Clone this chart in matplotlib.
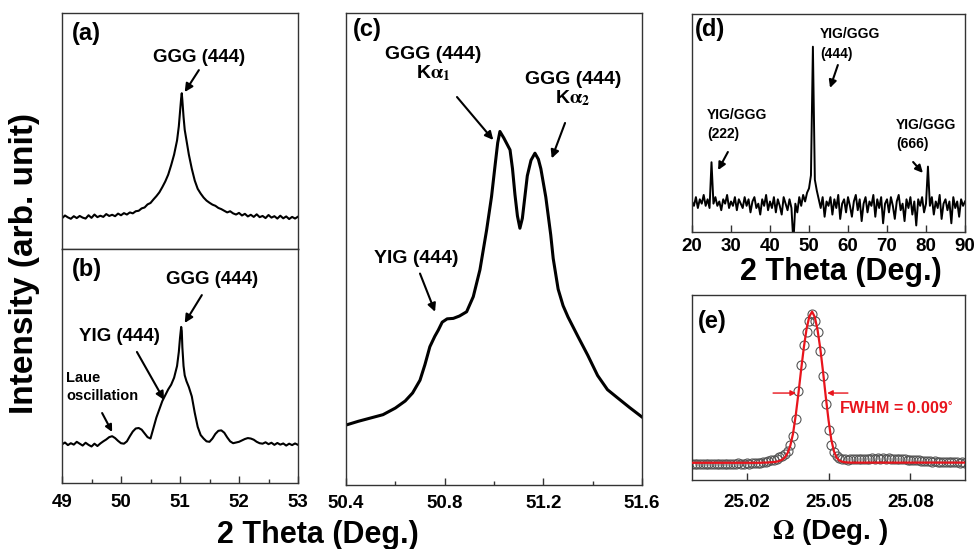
import numpy as np
import matplotlib.pyplot as plt

plt.rcParams['font.family'] = ['Liberation Sans', 'DejaVu Sans']
plt.rcParams['font.weight'] = 'bold'
plt.rcParams['mathtext.fontset'] = 'stix'

# ---- data (intensities in arb. units, 0-100 per panel) ----

# (a) GGG substrate only
a_2theta = [49.00, 49.05, 49.10, 49.15, 49.20, 49.25, 49.30, 49.35, 49.40, 49.45,
            49.50, 49.55, 49.60, 49.65, 49.70, 49.75, 49.80, 49.85, 49.90, 49.95,
            50.00, 50.05, 50.10, 50.15, 50.20, 50.25, 50.30, 50.35, 50.40, 50.45,
            50.50, 50.55, 50.60, 50.65, 50.70, 50.75, 50.80, 50.85, 50.90, 50.95,
            50.98, 51.00, 51.02, 51.03, 51.04, 51.06, 51.08, 51.11, 51.15, 51.20,
            51.25, 51.30, 51.35, 51.40, 51.45, 51.50, 51.55, 51.60, 51.65, 51.70,
            51.75, 51.80, 51.85, 51.90, 51.95, 52.00, 52.05, 52.10, 52.15, 52.20,
            52.25, 52.30, 52.35, 52.40, 52.45, 52.50, 52.55, 52.60, 52.65, 52.70,
            52.75, 52.80, 52.85, 52.90, 52.95, 53.00]
a_int = [13.0, 14.2, 13.4, 12.8, 13.9, 13.1, 14.0, 13.3, 12.9, 14.3,
         13.2, 14.6, 13.5, 14.1, 13.6, 14.8, 14.0, 14.5, 13.9, 15.0,
         14.3, 15.2, 14.6, 15.5, 15.1, 16.0, 16.2, 17.2, 17.6, 18.9,
         19.5, 21.0, 22.4, 24.0, 26.2, 28.6, 31.5, 35.5, 40.0, 46.0,
         52.0, 58.0, 64.0, 66.0, 63.0, 56.0, 50.5, 46.0, 40.0, 34.0,
         29.0, 25.5, 23.5, 21.8, 20.5, 19.6, 18.8, 18.3, 17.4, 16.9,
         16.2, 15.5, 16.0, 15.1, 14.6, 15.3, 14.2, 14.9, 13.8, 14.5,
         13.6, 14.7, 13.5, 14.0, 13.1, 14.4, 13.3, 13.9, 12.9, 14.1,
         13.0, 13.8, 12.7, 13.6, 12.9, 13.7]

# (b) YIG film on GGG
b_2theta = [49.00, 49.05, 49.10, 49.15, 49.20, 49.25, 49.30, 49.35, 49.40, 49.45,
            49.50, 49.55, 49.60, 49.65, 49.70, 49.75, 49.80, 49.85, 49.90, 49.95,
            50.00, 50.05, 50.10, 50.15, 50.20, 50.25, 50.30, 50.35, 50.40, 50.45,
            50.50, 50.55, 50.60, 50.65, 50.70, 50.75, 50.80, 50.85, 50.90, 50.95,
            50.98, 51.00, 51.02, 51.03, 51.04, 51.06, 51.08, 51.11, 51.15, 51.20,
            51.25, 51.30, 51.35, 51.40, 51.45, 51.50, 51.55, 51.60, 51.65, 51.70,
            51.75, 51.80, 51.85, 51.90, 51.95, 52.00, 52.05, 52.10, 52.15, 52.20,
            52.25, 52.30, 52.35, 52.40, 52.45, 52.50, 52.55, 52.60, 52.65, 52.70,
            52.75, 52.80, 52.85, 52.90, 52.95, 53.00]
b_int = [16.5, 17.3, 16.2, 17.0, 16.4, 17.6, 16.8, 16.0, 17.2, 16.3,
         15.6, 16.8, 15.8, 16.9, 17.8, 18.6, 19.6, 20.0, 19.2, 18.0,
         17.0, 16.8, 17.8, 20.0, 22.0, 23.3, 23.5, 22.8, 21.2, 19.6,
         19.0, 23.5, 28.0, 31.5, 35.0, 37.5, 40.0, 42.0, 45.0, 50.0,
         56.0, 62.0, 66.7, 65.0, 58.0, 50.0, 46.0, 43.5, 41.0, 37.0,
         30.0, 24.0, 20.5, 19.0, 17.8, 17.6, 19.0, 21.0, 22.3, 22.5,
         21.5, 19.5, 17.8, 17.0, 17.3, 17.6, 18.2, 18.8, 19.2, 19.0,
         18.5, 17.6, 17.0, 16.8, 17.4, 16.6, 17.2, 16.3, 17.1, 16.4,
         16.9, 16.0, 16.8, 16.2, 16.9, 16.3]

# (c) zoom on the (444) reflection, Ka1 / Ka2 doublet
c_2theta = [50.40, 50.45, 50.50, 50.55, 50.60, 50.64, 50.67, 50.70, 50.72, 50.74,
            50.76, 50.774, 50.79, 50.81, 50.835, 50.86, 50.889, 50.916, 50.943, 50.97,
            50.99, 51.005, 51.015, 51.024, 51.04, 51.065, 51.075, 51.085, 51.095, 51.105,
            51.115, 51.125, 51.135, 51.15, 51.166, 51.18, 51.19, 51.20, 51.21, 51.22,
            51.23, 51.24, 51.26, 51.28, 51.30, 51.34, 51.38, 51.42, 51.46, 51.50,
            51.55, 51.60]
c_int = [12.7, 13.5, 14.2, 14.9, 16.3, 17.8, 19.5, 22.2, 25.5, 29.3,
         31.5, 32.8, 34.5, 35.2, 35.3, 35.8, 36.7, 39.9, 45.6, 54.0,
         61.1, 68.0, 72.5, 74.9, 73.5, 71.0, 67.0, 61.5, 57.0, 54.4,
         56.5, 61.0, 65.5, 68.8, 70.3, 69.0, 67.0, 64.0, 61.0, 57.0,
         53.0, 48.0, 41.5, 38.0, 35.6, 31.5, 27.5, 23.2, 20.2, 18.5,
         16.4, 14.4]

# (d) wide 2theta scan, 0.5 deg steps from 20 to 90
d_2theta = np.arange(20.0, 90.01, 0.5)
d_int = [14, 12, 16, 11, 15, 13, 17, 12, 15, 11,
         32, 13, 16, 12, 14, 10, 15, 13, 17, 11,
         14, 12, 16, 10, 15, 13, 11, 16, 12, 15,
         9, 14, 16, 11, 13, 8, 15, 12, 17, 10,
         14, 11, 16, 9, 15, 12, 8, 16, 13, 10,
         15, 11, -5, 13, 9, 16, 12, 17, 14, 18,
         20, 26, 85, 24, 19, 15, 11, 16, 7, 14,
         12, 16, 8, 15, 11, 17, 6, 13, 15, 9,
         16, 12, 7, 14, 17, 10, 15, 5, 13, 16,
         9, 14, 12, 17, 7, 15, 11, 16, 4, 13,
         15, 9, 16, 12, 6, 14, 17, 10, 13, 5,
         15, 11, 16, 8, 14, 3, 15, 12, 16, 9,
         13, 30, 12, 16, 8, 14, 11, 17, 6, 13,
         15, 10, 14, 4, 16, 11, 14, 7, 15, 12,
         14]

# (e) rocking curve, measured points and fit
e_omega = np.round(np.arange(25.000, 25.1005, 0.001), 3)
e_meas = [8.8, 8.6, 8.9, 8.7, 8.8, 8.5, 8.9, 8.7, 8.6, 8.8,
          8.9, 8.7, 8.8, 8.6, 8.9, 8.8, 8.7, 9.0, 8.8, 8.9,
          9.1, 8.9, 9.2, 9.0, 9.3, 9.4, 9.6, 9.8, 10.2, 10.6,
          10.8, 11.5, 12.2, 13.0, 14.0, 15.5, 19.0, 24.0, 33.0, 48.0,
          62.0, 73.0, 80.0, 86.0, 90.0, 86.0, 80.0, 70.0, 56.0, 41.0,
          27.0, 19.0, 15.0, 13.0, 12.0, 11.5, 11.2, 11.0, 11.3, 11.1,
          11.4, 11.2, 11.5, 11.3, 11.6, 11.4, 11.7, 11.5, 11.8, 11.6,
          11.7, 11.5, 11.8, 11.6, 11.5, 11.3, 11.4, 11.2, 11.1, 10.9,
          11.0, 10.8, 10.6, 10.7, 10.5, 10.3, 10.4, 10.2, 10.0, 10.1,
          9.9, 9.8, 9.9, 9.7, 9.6, 9.8, 9.5, 9.6, 9.4, 9.5,
          9.3]
e_fit = [9.3, 9.3, 9.3, 9.3, 9.3, 9.3, 9.3, 9.3, 9.3, 9.3,
         9.3, 9.3, 9.3, 9.3, 9.3, 9.3, 9.3, 9.3, 9.3, 9.3,
         9.3, 9.3, 9.3, 9.3, 9.3, 9.3, 9.4, 9.4, 9.5, 9.6,
         9.7, 9.9, 10.3, 11.0, 12.2, 14.5, 18.5, 25.0, 35.0, 47.0,
         60.0, 72.0, 82.0, 88.5, 91.0, 88.0, 81.0, 71.0, 58.5, 45.0,
         32.5, 22.0, 15.5, 12.0, 10.5, 9.9, 9.6, 9.5, 9.4, 9.4,
         9.4, 9.4, 9.4, 9.4, 9.4, 9.4, 9.4, 9.4, 9.4, 9.4,
         9.4, 9.4, 9.4, 9.4, 9.4, 9.4, 9.4, 9.4, 9.4, 9.4,
         9.4, 9.4, 9.4, 9.4, 9.4, 9.4, 9.4, 9.4, 9.4, 9.4,
         9.4, 9.4, 9.4, 9.4, 9.4, 9.4, 9.4, 9.4, 9.4, 9.4,
         9.4]

# ---- layout ----
W, H = 975, 549


def box(l, t, r, b):
    # pixel box -> figure fraction rect
    return [l / W, 1 - b / H, (r - l) / W, (b - t) / H]


def style(ax):
    for s in ax.spines.values():
        s.set_linewidth(1.0)
        s.set_color('#333333')
    ax.set_yticks([])
    ax.set_ylim(0, 100)
    ax.tick_params(axis='x', which='both', direction='in', labelsize=13.5,
                   width=1.0, color='#333333')
    ax.tick_params(axis='x', which='major', length=5)
    ax.tick_params(axis='x', which='minor', length=3)


def arrow(ax, tail, tip, color='k', lw=1.5, ms=12):
    ax.annotate('', xy=tip, xytext=tail,
                arrowprops=dict(arrowstyle='-|>', color=color, lw=lw,
                                mutation_scale=ms, shrinkA=0, shrinkB=0))


fig = plt.figure(figsize=(9.75, 5.49), dpi=100)

ax_a = fig.add_axes(box(62, 13, 298, 249))
ax_b = fig.add_axes(box(62, 249, 298, 483))
ax_c = fig.add_axes(box(346, 13, 642, 485))
ax_d = fig.add_axes(box(692, 14, 965, 232))
ax_e = fig.add_axes(box(692, 295, 965, 480))

# (a)
style(ax_a)
ax_a.plot(a_2theta, a_int, color='k', lw=1.5)
ax_a.set_xlim(49, 53)
ax_a.set_xticks([])
ax_a.text(49.17, 96, '(a)', fontsize=17, ha='left', va='top')
ax_a.text(51.32, 81, 'GGG (444)', fontsize=13.5, ha='center', va='center')
arrow(ax_a, (51.32, 75.8), (51.08, 66.5))

# (b)
style(ax_b)
ax_b.plot(b_2theta, b_int, color='k', lw=1.5)
ax_b.set_xlim(49, 53)
ax_b.set_xticks([49, 50, 51, 52, 53])
ax_b.set_xticks([49.5, 50.5, 51.5, 52.5], minor=True)
ax_b.tick_params(axis='x', pad=8)
ax_b.text(49.17, 96, '(b)', fontsize=17, ha='left', va='top')
ax_b.text(51.54, 86.8, 'GGG (444)', fontsize=13.5, ha='center', va='center')
arrow(ax_b, (51.37, 80.3), (51.08, 68.4))
ax_b.text(49.97, 62.4, 'YIG (444)', fontsize=13.5, ha='center', va='center')
arrow(ax_b, (50.27, 56), (50.73, 35.5))
ax_b.text(49.07, 48, 'Laue\noscillation', fontsize=10.5, ha='left', va='top',
          linespacing=1.35)
arrow(ax_b, (49.68, 29.9), (49.85, 21.8), ms=10)

# (c)
style(ax_c)
ax_c.plot(c_2theta, c_int, color='k', lw=2.2)
ax_c.set_xlim(50.4, 51.6)
ax_c.set_xticks([50.4, 50.8, 51.2, 51.6])
ax_c.set_xticks([50.6, 51.0, 51.4], minor=True)
ax_c.tick_params(axis='x', pad=7)
ax_c.text(50.428, 99, '(c)', fontsize=17, ha='left', va='top')
ax_c.text(50.755, 93, 'GGG (444)\nK$\\mathrm{\\alpha}_1$', fontsize=14,
          ha='center', va='top', linespacing=1.0)
arrow(ax_c, (50.85, 82.2), (50.997, 73.1))
ax_c.text(51.32, 87.7, 'GGG (444)\nK$\\mathrm{\\alpha}_2$', fontsize=14,
          ha='center', va='top', linespacing=1.0)
arrow(ax_c, (51.288, 76.7), (51.234, 69.2))
ax_c.text(50.683, 47.9, 'YIG (444)', fontsize=14, ha='center', va='center')
arrow(ax_c, (50.70, 44.8), (50.761, 36.7))

# (d)
style(ax_d)
ax_d.plot(d_2theta, d_int, color='k', lw=1.4)
ax_d.set_xlim(20, 90)
ax_d.set_xticks(np.arange(20, 91, 10))
ax_d.tick_params(axis='x', pad=4)
ax_d.text(20.8, 98, '(d)', fontsize=17, ha='left', va='top')
ax_d.text(52.8, 94, 'YIG/GGG\n(444)', fontsize=10, ha='left', va='top',
          linespacing=1.5)
arrow(ax_d, (57.4, 76.6), (55.4, 66.1), ms=11)
ax_d.text(23.85, 57, 'YIG/GGG\n(222)', fontsize=10, ha='left', va='top',
          linespacing=1.5)
arrow(ax_d, (29.2, 36.7), (26.7, 28.4), ms=11)
ax_d.text(72.3, 52.3, 'YIG/GGG\n(666)', fontsize=10, ha='left', va='top',
          linespacing=1.5)
arrow(ax_d, (76.7, 32.1), (79.2, 27.1), ms=11)

# (e)
style(ax_e)
ax_e.plot(e_omega, e_meas, ls='', marker='o', ms=6.5, mfc='none',
          mec='#555555', mew=0.8)
ax_e.plot(e_omega, e_fit, color='#e8141c', lw=1.6, zorder=3)
ax_e.set_xlim(25.0, 25.1)
ax_e.set_xticks([25.02, 25.05, 25.08])
ax_e.set_xticklabels(['25.02', '25.05', '25.08'])
ax_e.tick_params(axis='x', pad=10)
ax_e.text(25.0022, 92, '(e)', fontsize=17, ha='left', va='top')
arrow(ax_e, (25.0297, 47), (25.0381, 47), color='#e8141c', lw=1.0, ms=8)
arrow(ax_e, (25.0571, 47), (25.0495, 47), color='#e8141c', lw=1.0, ms=8)
ax_e.text(25.0538, 39, 'FWHM = 0.009$^{\\circ}$', fontsize=11.5, color='#e8141c',
          ha='left', va='center')

# shared labels
fig.text(25 / W, 1 - 264 / H, 'Intensity (arb. unit)', rotation=90,
         ha='center', va='center', fontsize=24)
fig.text(318 / W, 1 - 535 / H, '2 Theta (Deg.)', ha='center', va='center',
         fontsize=22)
fig.text(841 / W, 1 - 272 / H, '2 Theta (Deg.)', ha='center', va='center',
         fontsize=22)
fig.text(830 / W, 1 - 532 / H, '$\\mathrm{\\Omega}$ (Deg. )', ha='center',
         va='center', fontsize=20)

fig.savefig('out.png', dpi=100)
